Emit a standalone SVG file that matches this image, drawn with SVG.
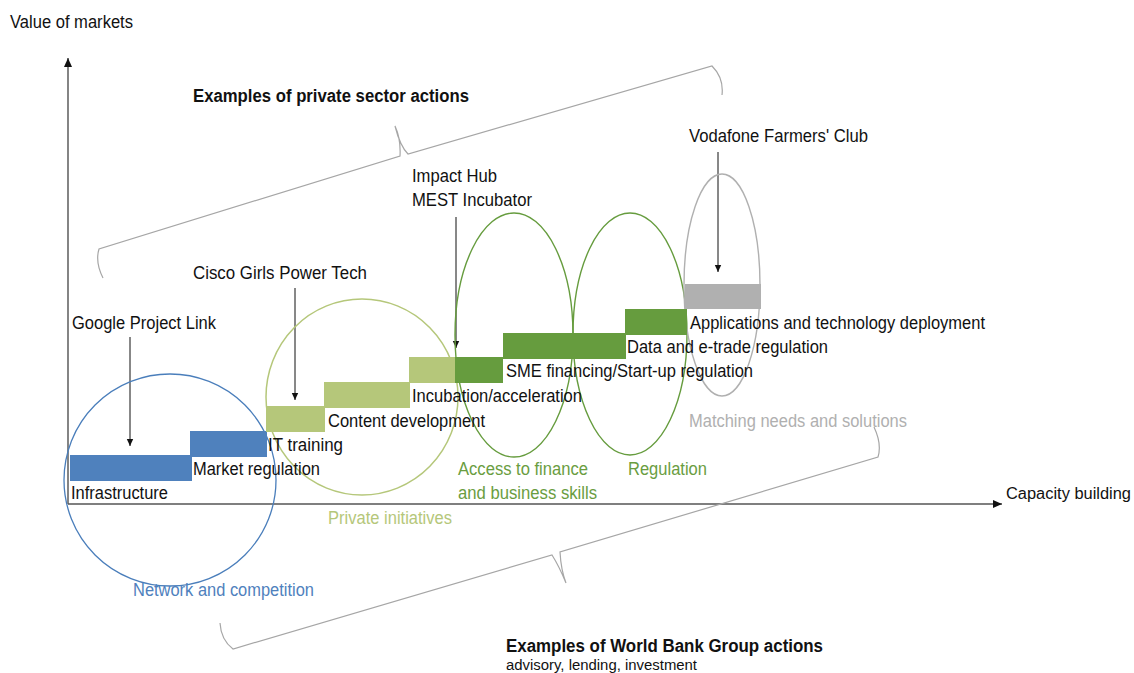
<svg xmlns="http://www.w3.org/2000/svg" width="1134" height="673" viewBox="0 0 1134 673">
<style>
text{font-family:"Liberation Sans",Arial,sans-serif;font-size:17.5px;fill:#111}
.b{font-weight:bold;font-size:17.5px}
.blue{fill:#4f81bd}
.lg{fill:#b5c77a}
.dg{fill:#6a9d3f}
.gr{fill:#b0b0b0}
.brace{fill:none;stroke:#a6a6a6;stroke-width:1.2}
.ptr{stroke:#111;stroke-width:1;fill:none;marker-end:url(#ah)}
</style>
<defs>
<marker id="ah" markerWidth="8" markerHeight="8" refX="7" refY="4" orient="auto" markerUnits="userSpaceOnUse">
<path d="M0,0.8 L7,4 L0,7.2 Z" fill="#111"/>
</marker>
<marker id="axh" markerWidth="10" markerHeight="10" refX="9" refY="5" orient="auto" markerUnits="userSpaceOnUse">
<path d="M0,1 L9,5 L0,9 Z" fill="#111"/>
</marker>
</defs>
<rect width="1134" height="673" fill="#fff"/>

<g id="connectors">
<line x1="68" y1="504" x2="68" y2="58" stroke="#333" stroke-width="1.2" marker-end="url(#axh)"/>
<line x1="68" y1="504" x2="1002" y2="504" stroke="#555" stroke-width="1.4" marker-end="url(#axh)"/>
<line class="ptr" x1="130" y1="337" x2="130" y2="446"/>
<line class="ptr" x1="295" y1="288" x2="295" y2="400"/>
<line class="ptr" x1="456" y1="217" x2="456" y2="348"/>
<line class="ptr" x1="718" y1="152" x2="718" y2="272"/>
</g>

<g id="brace-private">
<path class="brace" d="M103,278 Q95,262 99,249 L400,156 Q401,139 395,126 Q400,146 408,154 L712,66 Q724,78 722,95"/>
<text class="b" x="193" y="102" textLength="276" lengthAdjust="spacingAndGlyphs">Examples of private sector actions</text>
</g>

<g id="brace-wbg">
<path class="brace" d="M874,427 Q882,444 878,457 L560,552 Q561,570 566,583 Q559,566 552,555 L233,649 Q221,640 220,623"/>
<text class="b" x="506" y="652" textLength="317" lengthAdjust="spacingAndGlyphs">Examples of World Bank Group actions</text>
<text x="506" y="670" style="font-size:14px" textLength="191" lengthAdjust="spacingAndGlyphs">advisory, lending, investment</text>
</g>

<g id="axis-labels">
<text x="10" y="28" textLength="123" lengthAdjust="spacingAndGlyphs">Value of markets</text>
<text x="1006" y="499" style="font-size:16px" textLength="125" lengthAdjust="spacingAndGlyphs">Capacity building</text>
</g>

<g id="network-competition">
<circle cx="170" cy="480" r="106" fill="none" stroke="#4a7ebb" stroke-width="1.3"/>
<text class="blue" x="133" y="596" textLength="181" lengthAdjust="spacingAndGlyphs">Network and competition</text>
</g>

<g id="private-initiatives">
<ellipse cx="362" cy="397" rx="96" ry="98" fill="none" stroke="#b5c77a" stroke-width="1.5"/>
<text class="lg" x="328" y="524" textLength="124" lengthAdjust="spacingAndGlyphs">Private initiatives</text>
</g>

<g id="access-finance">
<ellipse cx="514" cy="335" rx="59" ry="122" fill="none" stroke="#669c3e" stroke-width="1.4"/>
<text class="dg" x="458" y="475" textLength="130" lengthAdjust="spacingAndGlyphs">Access to finance</text>
<text class="dg" x="458" y="499" textLength="139" lengthAdjust="spacingAndGlyphs">and business skills</text>
</g>

<g id="regulation">
<ellipse cx="630" cy="334" rx="57" ry="121" fill="none" stroke="#669c3e" stroke-width="1.4"/>
<text class="dg" x="628" y="475" textLength="79" lengthAdjust="spacingAndGlyphs">Regulation</text>
</g>

<g id="matching">
<ellipse cx="722" cy="285" rx="38" ry="111" fill="none" stroke="#b0b0b0" stroke-width="1.4"/>
<text class="gr" x="689" y="427" textLength="218" lengthAdjust="spacingAndGlyphs">Matching needs and solutions</text>
</g>

<g id="infrastructure">
<rect x="70" y="455" width="122" height="26" fill="#4f81bd"/>
<text x="71" y="499" textLength="97" lengthAdjust="spacingAndGlyphs">Infrastructure</text>
</g>
<g id="market-regulation">
<rect x="190" y="431" width="77" height="26" fill="#4f81bd"/>
<text x="193" y="475" textLength="127" lengthAdjust="spacingAndGlyphs">Market regulation</text>
</g>
<g id="it-training">
<rect x="266" y="406" width="59" height="26" fill="#b5c77a"/>
<text x="268" y="451" textLength="75" lengthAdjust="spacingAndGlyphs">IT training</text>
</g>
<g id="content-development">
<rect x="324" y="382" width="86" height="26" fill="#b5c77a"/>
<text x="328" y="427" textLength="157" lengthAdjust="spacingAndGlyphs">Content development</text>
</g>
<g id="incubation">
<rect x="409" y="357" width="47" height="26" fill="#b5c77a"/>
<text x="412" y="402" textLength="170" lengthAdjust="spacingAndGlyphs">Incubation/acceleration</text>
</g>
<g id="sme-financing">
<rect x="455" y="357" width="48" height="26" fill="#669c3e"/>
<text x="506" y="377" textLength="247" lengthAdjust="spacingAndGlyphs">SME financing/Start-up regulation</text>
</g>
<g id="data-etrade">
<rect x="503" y="333" width="123" height="26" fill="#669c3e"/>
<text x="627" y="353" textLength="201" lengthAdjust="spacingAndGlyphs">Data and e-trade regulation</text>
</g>
<g id="applications">
<rect x="625" y="309" width="62" height="26" fill="#669c3e"/>
<text x="690" y="329" textLength="295" lengthAdjust="spacingAndGlyphs">Applications and technology deployment</text>
</g>
<g id="vodafone-bar">
<rect x="685" y="284" width="76" height="25" fill="#b0b0b0"/>
</g>

<g id="google">
<text x="72" y="329" textLength="144" lengthAdjust="spacingAndGlyphs">Google Project Link</text>
</g>
<g id="cisco">
<text x="193" y="279" textLength="174" lengthAdjust="spacingAndGlyphs">Cisco Girls Power Tech</text>
</g>
<g id="impact-hub">
<text x="412" y="182" textLength="85" lengthAdjust="spacingAndGlyphs">Impact Hub</text>
<text x="412" y="206" textLength="120" lengthAdjust="spacingAndGlyphs">MEST Incubator</text>
</g>
<g id="vodafone">
<text x="689" y="142" textLength="179" lengthAdjust="spacingAndGlyphs">Vodafone Farmers' Club</text>
</g>
</svg>
